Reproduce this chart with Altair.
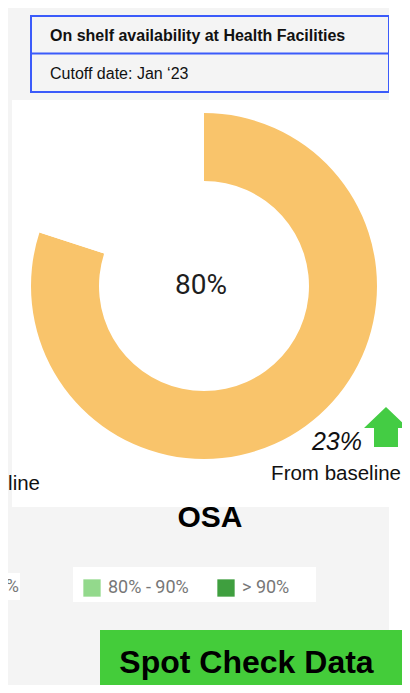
import altair as alt
import pandas as pd

# ---- data ----
title_text = ["On shelf availability at Health Facilities"]
cutoff_text = ["Cutoff date: Jan \u201823"]
osa_labels = ["Available", "Gap"]
osa_values = [80, 20]
change_values = [23]
baseline_text = ["From baseline"]
kpi_name = ["OSA"]
legend_labels = ["80% - 90%", "> 90%"]
legend_colors = ["#93d98c", "#3f9f3f"]
left_legend_tail = ["%"]
button_text = ["Spot Check Data"]

ARIAL = "Liberation Sans, Arial, sans-serif"
GREY = "#f4f4f4"
W, H = 394, 677
one = pd.DataFrame({"k": [0]})


def box(x1, x2, y1, y2, fill, **kw):
    return alt.Chart(one).mark_rect(fill=fill, **kw).encode(
        x=alt.value(x1), x2=alt.value(x2), y=alt.value(y1), y2=alt.value(y2)
    )


def label(texts, x, y, **kw):
    df = pd.DataFrame({"t": texts})
    return alt.Chart(df).mark_text(**kw).encode(
        text="t:N", x=alt.value(x), y=alt.value(y)
    )


layers = []
# backgrounds
layers.append(box(0, 381, 0, H, GREY))
layers.append(box(23, 381, 8, 84, GREY, stroke="#3b5bfa", strokeWidth=2))
layers.append(
    alt.Chart(one).mark_rule(color="#3b5bfa", strokeWidth=2).encode(
        x=alt.value(23), x2=alt.value(381), y=alt.value(45.5)
    )
)
layers.append(label(title_text, 42, 27.5, align="left", baseline="middle",
                    font=ARIAL, fontSize=16, fontWeight="bold", color="#111"))
layers.append(label(cutoff_text, 42, 66, align="left", baseline="middle",
                    font=ARIAL, fontSize=16, color="#111"))
layers.append(box(4, 381, 92, 499, "#ffffff"))
layers.append(box(381, W, 0, H, "#ffffff"))

# donut
osa_df = pd.DataFrame({"label": osa_labels, "value": osa_values, "idx": [0, 1]})
layers.append(
    alt.Chart(osa_df).mark_arc(radius=173, radius2=105).encode(
        theta=alt.Theta("value:Q", stack=True),
        order=alt.Order("idx:Q"),
        color=alt.Color("label:N", scale=alt.Scale(domain=osa_labels, range=["#f9c46b", "#ffffff"]), legend=None),
        x=alt.value(196),
        y=alt.value(278),
    )
)
layers.append(label([f"{osa_values[0]}%"], 193, 278, align="center", baseline="middle",
                    font="Roboto", fontSize=28, color="#1e1e1e"))

# change indicator
layers.append(label([f"{v}%" for v in change_values], 354, 442, align="right", baseline="alphabetic",
                    font=ARIAL, fontSize=25, fontStyle="italic", color="#111"))
arrow = "M0,-0.909 L1,0.045 L0.545,0.045 L0.545,0.909 L-0.545,0.909 L-0.545,0.045 L-1,0.045 Z"
layers.append(
    alt.Chart(one).mark_point(shape=arrow, filled=True, size=1936, color="#44cc44", opacity=1, strokeWidth=0).encode(
        x=alt.value(378), y=alt.value(419)
    )
)
layers.append(label(baseline_text, 393, 472, align="right", baseline="alphabetic",
                    font=ARIAL, fontSize=20.5, color="#111"))
layers.append(label(baseline_text, 32, 482, align="right", baseline="alphabetic",
                    font=ARIAL, fontSize=20.5, color="#111"))
layers.append(label(kpi_name, 202, 519, align="center", baseline="alphabetic",
                    font=ARIAL, fontSize=30, fontWeight="bold", color="#000"))

# legend strip
layers.append(box(65, 308, 559, 594, "#ffffff"))
layers.append(box(0, 12, 565, 592, "#ffffff"))
layers.append(label(left_legend_tail, 11, 579, align="right", baseline="middle",
                    font="Roboto", fontSize=18, color="#777"))
leg_df = pd.DataFrame({"idx": [0, 1], "label": legend_labels, "color": legend_colors})
xs = alt.X("idx:Q", scale=alt.Scale(domain=[0, 1], range=[84, 218]), axis=None)
layers.append(
    alt.Chart(leg_df).mark_square(size=300, opacity=1).encode(
        x=xs, y=alt.value(580), color=alt.Color("color:N", scale=None)
    )
)
layers.append(
    alt.Chart(leg_df).mark_text(align="left", baseline="middle", dx=16, font="Roboto", fontSize=18, color="#777").encode(
        x=xs, y=alt.value(580), text="label:N"
    )
)

# button
layers.append(box(92, W, 622, H, "#44cc3a"))
layers.append(label(button_text, 238.5, 665, align="center", baseline="alphabetic",
                    font=ARIAL, fontSize=32, fontWeight="bold", color="#000"))

chart = alt.layer(*layers).properties(
    width=W, height=H, padding=0, autosize=alt.AutoSizeParams(type="none"),
    background="#ffffff",
).configure_view(strokeWidth=0)

chart.save("out.html", embed_options={"renderer": "svg", "actions": False})
